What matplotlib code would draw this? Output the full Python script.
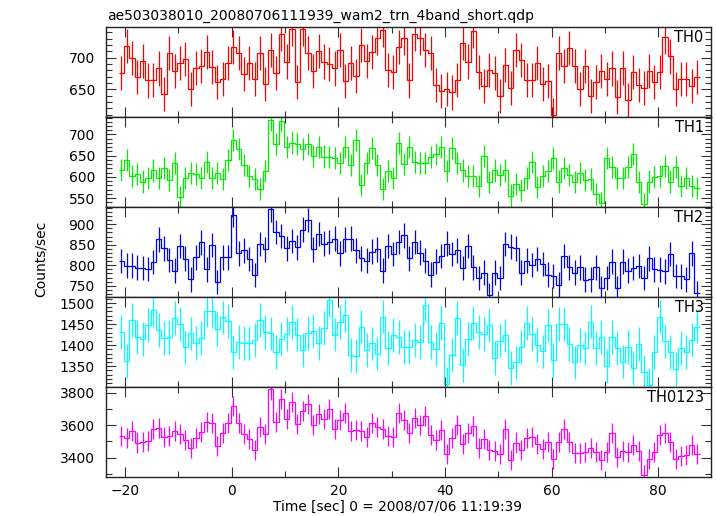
import numpy as np
import matplotlib
matplotlib.use("Agg")
import matplotlib.pyplot as plt
from matplotlib.ticker import MultipleLocator

plt.rcParams['font.family'] = ['DejaVu Sans']

# light curves, counts/sec, 1 s bins
title = "ae503038010_20080706111939_wam2_trn_4band_short.qdp"
bands = ["TH0", "TH1", "TH2", "TH3", "TH0123"]
colors = ["#ff0000", "#00ee00", "#0000ff", "#00ffff", "#ff00ff"]

th0 = [676, 719, 700, 669, 695, 664, 665, 683, 642, 707,
       679, 691, 698, 651, 684, 687, 709, 685, 662, 667,
       692, 717, 708, 674, 691, 666, 707, 658, 712, 676,
       738, 694, 745, 662, 745, 708, 679, 710, 694, 690,
       683, 712, 663, 691, 671,
       720, 695, 709, 731, 744, 681, 678, 717, 731, 664,
       738, 731, 712, 707, 657, 648, 650, 645, 665, 723,
       694, 743, 678, 655, 681, 676, 640, 688, 652, 712,
       697, 665, 665, 691, 659, 663, 610, 708, 687, 716,
       687, 650, 687, 640, 662, 679, 666, 683, 638, 684,
       633, 678, 657, 652, 679, 662, 678, 733, 702, 650,
       666, 666, 655, 670]

th1 = [616, 640, 602, 606, 589, 597, 615, 597, 620, 593,
       632, 553, 597, 610, 607, 597, 636, 597, 609, 595,
       640, 687, 665, 628, 603, 595, 571, 613, 735, 677,
       732, 671, 681, 677, 665, 677, 649, 670, 648, 646,
       644, 632, 670, 628, 688,
       581, 632, 667, 628, 571, 613, 598, 679, 630, 671,
       636, 632, 632, 646, 654, 670, 613, 669, 632, 615,
       602, 602, 579, 650, 587, 615, 605, 615, 556, 584,
       568, 597, 636, 576, 602, 613, 644, 589, 620, 605,
       587, 609, 593, 595, 560, 538, 644, 624, 598, 597,
       623, 655, 587, 536, 589, 599, 601, 626, 589, 623,
       579, 597, 579, 573]

th2 = [810, 799, 799, 794, 793, 791, 808, 863, 841, 813,
       787, 847, 816, 766, 819, 856, 790, 849, 759, 819,
       819, 923, 829, 836, 815, 776, 852, 839, 936, 881,
       871, 841, 859, 844, 887, 910, 839, 876, 853, 857,
       865, 829, 863, 865, 836,
       817, 811, 833, 839, 787, 847, 827, 857, 873, 817,
       857, 831, 811, 777, 809, 823, 853, 827, 836, 793,
       847, 795, 769, 782, 728, 782, 769, 852, 845, 841,
       782, 811, 801, 815, 803, 777, 774, 753, 823, 795,
       782, 795, 765, 766, 795, 744, 769, 809, 744, 809,
       787, 793, 798, 769, 817, 790, 789, 785, 827, 774,
       773, 766, 829, 732]

th3 = [1431, 1363, 1460, 1419, 1415, 1448, 1484, 1436, 1417, 1419,
       1465, 1451, 1395, 1428, 1405, 1417, 1482, 1481, 1439, 1466,
       1457, 1383, 1407, 1405, 1405, 1412, 1460, 1431, 1428, 1383,
       1415, 1427, 1455, 1425, 1388, 1428, 1433, 1405, 1441, 1508,
       1425, 1455, 1472, 1377, 1375,
       1444, 1388, 1404, 1380, 1468, 1393, 1424, 1420, 1396, 1396,
       1412, 1408, 1496, 1407, 1391, 1453, 1308, 1377, 1465, 1353,
       1415, 1453, 1431, 1427, 1447, 1369, 1411, 1423, 1345, 1359,
       1395, 1453, 1427, 1401, 1385, 1447, 1364, 1451, 1451, 1403,
       1359, 1401, 1393, 1456, 1393, 1420, 1351, 1419, 1393, 1361,
       1396, 1345, 1403, 1337, 1305, 1383, 1468, 1409, 1383, 1343,
       1393, 1383, 1412, 1444]

th0123 = [3534, 3523, 3564, 3493, 3497, 3503, 3575, 3581, 3527, 3534,
          3564, 3544, 3509, 3458, 3519, 3558, 3622, 3616, 3472, 3550,
          3611, 3718, 3611, 3548, 3513, 3445, 3591, 3544, 3820, 3620,
          3759, 3636, 3743, 3609, 3687, 3732, 3601, 3667, 3636, 3698,
          3575, 3630, 3673, 3564, 3570,
          3564, 3527, 3616, 3589, 3575, 3534, 3527, 3677, 3630, 3550,
          3646, 3601, 3656, 3540, 3507, 3568, 3425, 3519, 3601, 3486,
          3554, 3595, 3458, 3513, 3445, 3441, 3425, 3575, 3386, 3493,
          3445, 3523, 3529, 3482, 3452, 3499, 3390, 3499, 3575, 3499,
          3431, 3431, 3437, 3458, 3437, 3384, 3435, 3554, 3404, 3441,
          3437, 3478, 3441, 3292, 3390, 3437, 3540, 3554, 3499, 3390,
          3410, 3417, 3478, 3421]

# typical 1-sigma error per band
errors = [27, 26, 30, 40, 62]

series = [th0, th1, th2, th3, th0123]

# axis settings per panel
ylims = [(606.2, 748.6), (528.9, 741.2), (722.7, 941.9), (1300.6, 1514.4), (3281, 3835)]
ymajor = [50, 50, 50, 50, 200]
yminor = [10, 10, 10, 10, 100]

bin_start = -21.2
bin_width = 1.0

fig = plt.figure(figsize=(7.17, 5.16), dpi=100)

left = 106 / 717
width = (711 - 106) / 717
top = 27 / 516
ph = 90 / 516

for i in range(5):
    vals = np.array(series[i], dtype=float)
    edges = bin_start + bin_width * np.arange(len(vals) + 1)
    centers = edges[:-1] + bin_width / 2

    ax = fig.add_axes([left, 1 - top - (i + 1) * ph, width, ph])
    ax.stairs(vals, edges, baseline=None, color=colors[i], lw=0.9)
    ax.errorbar(centers, vals, yerr=errors[i], fmt='none', ecolor=colors[i],
                elinewidth=0.9, capsize=0)

    ax.set_xlim(-23.6, 89.9)
    ax.set_ylim(*ylims[i])
    ax.xaxis.set_major_locator(MultipleLocator(20))
    ax.xaxis.set_minor_locator(MultipleLocator(10))
    ax.yaxis.set_major_locator(MultipleLocator(ymajor[i]))
    ax.yaxis.set_minor_locator(MultipleLocator(yminor[i]))
    ax.tick_params(which='both', direction='in', top=True, right=True,
                   color='#333333', labelsize=10, width=0.8)
    ax.tick_params(which='major', length=7)
    ax.tick_params(which='minor', length=4)
    ax.tick_params(axis='y', pad=8)
    ax.tick_params(axis='x', pad=5)
    for s in ax.spines.values():
        s.set_color('#222222')
        s.set_linewidth(1.0)
    if i < 4:
        ax.tick_params(labelbottom=False)

    ax.text(0.988, 0.965, bands[i], transform=ax.transAxes, ha='right', va='top',
            fontsize=10.5)

fig.text(107 / 717, 1 - 20 / 516, title, ha='left', va='baseline', fontsize=10)
fig.text(40.5 / 717, 1 - 259 / 516, "Counts/sec", rotation=90, ha='center', va='center',
         fontsize=10)
fig.text(397.5 / 717, 1 - 506.5 / 516, "Time [sec] 0 = 2008/07/06 11:19:39",
         ha='center', va='center', fontsize=9.8)

fig.savefig("out.png", dpi=100)
